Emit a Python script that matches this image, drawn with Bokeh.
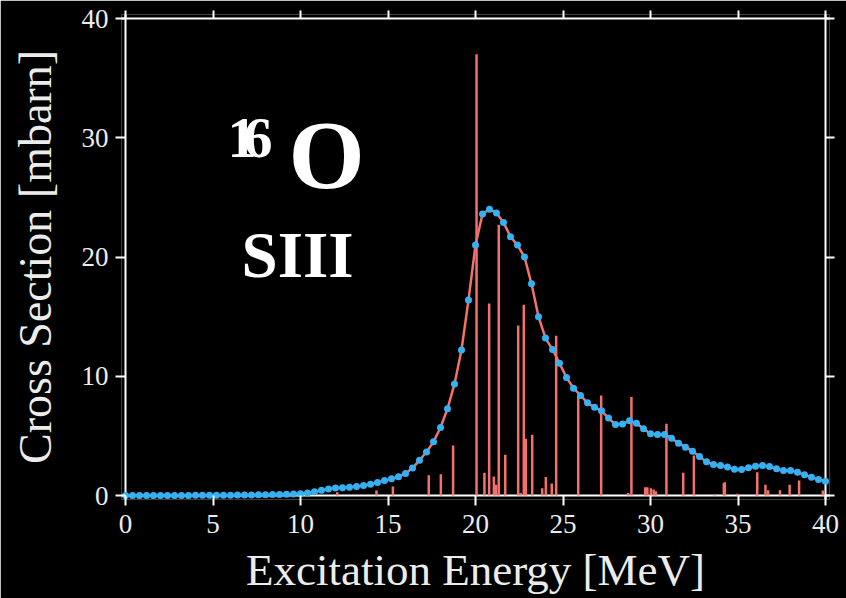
import math
from bokeh.plotting import figure
from bokeh.models import Range1d, LinearAxis, FixedTicker, Label, Span, ColumnDataSource
from bokeh.embed import file_html
from bokeh.resources import INLINE

# ---------------- data ----------------
energy = [0.0, 0.4, 0.8, 1.2, 1.6, 2.0, 2.4, 2.8, 3.2, 3.6, 4.0, 4.4, 4.8, 5.2, 5.6,
          6.0, 6.4, 6.8, 7.2, 7.6, 8.0, 8.4, 8.8, 9.2, 9.6, 10.0, 10.4, 10.8, 11.2,
          11.6, 12.0, 12.4, 12.8, 13.2, 13.6, 14.0, 14.4, 14.8, 15.2, 15.6, 16.0,
          16.4, 16.8, 17.2, 17.6, 18.0, 18.4, 18.8, 19.2, 19.6, 20.0, 20.4, 20.8,
          21.2, 21.6, 22.0, 22.4, 22.8, 23.2, 23.6, 24.0, 24.4, 24.8, 25.2, 25.6,
          26.0, 26.4, 26.8, 27.2, 27.6, 28.0, 28.4, 28.8, 29.2, 29.6, 30.0, 30.4,
          30.8, 31.2, 31.6, 32.0, 32.4, 32.8, 33.2, 33.6, 34.0, 34.4, 34.8, 35.2,
          35.6, 36.0, 36.4, 36.8, 37.2, 37.6, 38.0, 38.4, 38.8, 39.2, 39.6, 40.0]

cross_section = [0.00, 0.00, 0.00, 0.00, 0.00, 0.01, 0.01, 0.01, 0.01, 0.01, 0.02, 0.02,
                 0.02, 0.03, 0.03, 0.03, 0.04, 0.05, 0.05, 0.06, 0.07, 0.08, 0.09,
                 0.10, 0.12, 0.15, 0.22, 0.32, 0.43, 0.55, 0.62, 0.66, 0.70, 0.75, 0.84,
                 0.95, 1.10, 1.25, 1.40, 1.58, 1.85, 2.30, 2.95, 3.65, 4.50, 5.70, 7.27,
                 9.36, 12.2, 16.4, 21.0, 23.6, 24.0, 23.7, 22.9, 21.7, 21.0, 20.0, 17.75,
                 15.0, 13.2, 12.24, 11.1, 9.9, 9.0, 8.39, 7.77, 7.4, 7.1, 6.5, 5.95, 6.0,
                 6.26, 6.06, 5.59, 5.17, 5.12, 5.12, 4.81, 4.39, 4.05, 3.72, 3.27, 2.82,
                 2.6, 2.52, 2.38, 2.21, 2.18, 2.32, 2.46, 2.52, 2.43, 2.24, 2.1, 2.1, 1.96,
                 1.73, 1.54, 1.34, 1.2]

stick_energy = [12.10, 14.34, 15.28, 17.33, 18.02, 18.72, 20.06, 20.51, 20.78, 21.05,
                21.18, 21.33, 21.70, 22.44, 22.58, 22.76, 22.88, 23.24, 23.81, 24.02,
                24.36, 24.61, 25.87, 27.18, 28.72, 28.91, 29.70, 29.82, 30.02, 30.18,
                30.30, 30.91, 31.87, 32.48, 33.67, 34.19, 34.25, 34.95, 36.06, 36.10,
                36.57, 36.72, 37.40, 37.95, 38.49, 39.85]
stick_strength = [0.28, 0.42, 0.75, 1.70, 1.78, 4.19, 37.0, 1.90, 16.1, 1.60,
                  0.90, 22.7, 3.42, 14.26, 0.20, 16.0, 4.75, 5.09, 0.60, 1.55,
                  1.00, 13.4, 8.39, 8.39, 0.20, 8.25, 0.70, 0.70, 0.60, 0.50,
                  0.35, 6.01, 1.90, 3.35, 0.10, 1.05, 1.12, 0.15, 0.15, 1.96,
                  0.90, 0.45, 0.45, 0.90, 1.26, 0.42]

x_ticks = [0, 5, 10, 15, 20, 25, 30, 35, 40]
y_ticks = [0, 10, 20, 30, 40]
x_title = "Excitation Energy [MeV]"
y_title = "Cross Section [mbarn]"
nucleus_mass = ["1", "6"]
nucleus_symbol = "O"
model_name = "SIII"

assert len(energy) == len(cross_section)
assert len(stick_energy) == len(stick_strength)

# ---------------- styling ----------------
X0, X1, Y0, Y1 = 0, 40, 0, 40
PX_X = 17.5      # px per MeV
PX_Y = 11.925    # px per mbarn
PAD = 4          # px of frame beyond the axis box
xpad = PAD / PX_X
ypad = PAD / PX_Y

SERIF = "Liberation Serif"
RED = "#f2716c"
BLUE = "#33b1f2"
AX = "white"
TXT = "#ececec"

p = figure(width=846, height=598,
           x_range=Range1d(X0 - xpad, X1 + xpad),
           y_range=Range1d(Y0 - ypad, Y1 + ypad),
           output_backend="svg", toolbar_location=None,
           x_axis_location=None, y_axis_location=None,
           min_border_left=121, min_border_right=17,
           min_border_top=14, min_border_bottom=99,
           background_fill_color="black", border_fill_color="black",
           outline_line_color=None)
p.grid.visible = False

# axis box lines (drawn beneath the data)
for loc, dim in [(Y0, "width"), (Y1, "width"), (X0, "height"), (X1, "height")]:
    p.add_layout(Span(location=loc, dimension=dim, line_color=AX,
                      line_width=2, level="underlay"))


def make_axis(ticks, tout):
    ax = LinearAxis(ticker=FixedTicker(ticks=ticks))
    ax.axis_line_color = None
    ax.major_tick_line_color = AX
    ax.major_tick_line_width = 2
    ax.major_tick_in = PAD
    ax.major_tick_out = tout
    ax.minor_tick_line_color = None
    return ax


def labelled_axis(ticks, tout, standoff):
    ax = make_axis(ticks, tout)
    ax.major_label_text_font = SERIF
    ax.major_label_text_font_size = "27px"
    ax.major_label_text_color = TXT
    ax.major_label_standoff = standoff
    ax.axis_label_text_font = SERIF
    ax.axis_label_text_font_style = "normal"
    ax.axis_label_text_color = TXT
    return ax


def plain_axis(ticks, tout):
    # ticks only; labels are not painted
    ax = make_axis(ticks, tout)
    ax.major_label_text_color = None
    ax.major_label_text_font_size = "1px"
    ax.major_label_standoff = 0
    return ax


bottom = labelled_axis(x_ticks, 6, 9)
bottom.axis_label = x_title
bottom.axis_label_text_font_size = "45px"
bottom.axis_label_standoff = 9

left = labelled_axis(y_ticks, 6, 7)
left.axis_label = y_title
left.axis_label_text_font_size = "46px"
left.axis_label_standoff = 18

p.add_layout(bottom, "below")
p.add_layout(left, "left")
p.add_layout(plain_axis(x_ticks, 4), "above")
p.add_layout(plain_axis(y_ticks, 5), "right")

# stick spectrum
sticks = ColumnDataSource(dict(x=stick_energy, top=stick_strength,
                               base=[0] * len(stick_energy)))
p.segment(x0="x", y0="base", x1="x", y1="top", source=sticks,
          line_color=RED, line_width=2.5)

# folded cross section
curve = ColumnDataSource(dict(x=energy, y=cross_section))
p.line("x", "y", source=curve, line_color=RED, line_width=2.5)
p.scatter("x", "y", source=curve, size=7, fill_color=BLUE, line_color=None)

# nucleus / interaction annotation
BOLD = dict(text_font=SERIF, text_font_style="bold", text_color="white",
            text_baseline="alphabetic")
p.add_layout(Label(x=5.83, y=30.0, text=nucleus_mass[0],
                   text_font_size="58px", **BOLD))
p.add_layout(Label(x=6.74, y=30.0, text=nucleus_mass[1],
                   text_font_size="58px", **BOLD))
p.add_layout(Label(x=9.31, y=28.55, text=nucleus_symbol,
                   text_font_size="98px", **BOLD))
p.add_layout(Label(x=6.63, y=20.2, text=model_name,
                   text_font_size="65px", **BOLD))

open("out.html", "w").write(file_html(p, INLINE))
